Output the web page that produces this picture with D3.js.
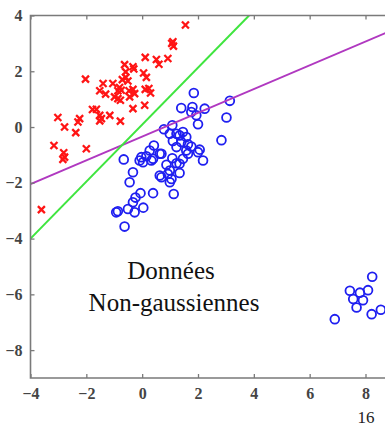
<!DOCTYPE html>
<html>
<head>
<meta charset="utf-8">
<script src="https://cdn.jsdelivr.net/npm/d3@7"></script>
<style>
  html, body { margin: 0; padding: 0; background: #fff; overflow: hidden; }
  svg { display: block; }
  .serif { font-family: "Liberation Serif", "Times New Roman", Times, "DejaVu Serif", serif; }
</style>
</head>
<body>
<div id="chart"></div>
<script>
// classe 1 : croix rouges
const redPoints = [
  [1.55,3.66],[1.10,3.06],[1.12,2.90],[1.06,3.0],[0.92,2.46],[0.51,2.42],[0.60,2.25],[0.11,2.50],
  [0.05,1.94],[0.15,1.78],[0.11,1.35],[0.30,1.22],[0.09,0.78],[-0.63,2.24],[-0.33,2.16],[-0.30,2.08],
  [-0.59,1.98],[-0.59,1.78],[-0.71,1.70],[-0.51,1.65],[-1.05,1.56],[-1.40,1.56],[-2.03,1.72],[-0.81,1.42],
  [-0.87,1.30],[-0.75,1.32],[-1.52,1.30],[-1.31,1.18],[-0.47,1.30],[-0.33,1.35],[-0.27,1.20],[-0.45,1.08],
  [-0.99,1.08],[-0.87,1.02],[-0.78,0.96],[-0.33,0.66],[-1.16,0.42],[-1.52,0.42],[-1.64,0.64],[-1.78,0.63],
  [-1.46,0.30],[-1.52,0.22],[-0.78,0.21],[-2.24,0.30],[-2.30,0.18],[-3.02,0.34],[-2.78,0.00],[-2.38,-0.20],
  [-3.16,-0.66],[-2.0,-0.78],[-2.81,-0.92],[-2.78,-1.08],[-2.84,-1.16],[-3.61,-2.96],[0.24,1.38]
];

// classe 2 : cercles bleus
const bluePoints = [
  [1.85,1.22],[1.40,0.68],[1.80,0.72],[1.76,0.54],[2.24,0.66],[3.14,0.94],[3.02,0.34],[2.0,0.10],
  [2.84,-0.47],[1.94,0.42],[1.08,0.06],[0.78,-0.08],[0.99,-0.24],[1.34,-0.30],[1.58,-0.36],[1.23,-0.24],
  [1.46,-0.18],[1.10,-0.50],[1.40,-0.54],[1.64,-0.62],[1.76,-0.70],[2.06,-0.81],[1.23,-0.72],[1.58,-0.84],
  [1.64,-0.96],[2.0,-0.90],[2.18,-1.20],[0.42,-0.66],[0.27,-0.84],[0.63,-0.96],[0.15,-1.05],[-0.09,-1.20],
  [0.39,-1.14],[-0.66,-1.16],[1.08,-1.12],[1.46,-1.14],[-0.03,-1.08],[0.03,-1.26],[0.33,-1.20],[0.69,-0.96],
  [-0.33,-1.62],[-0.45,-1.98],[0.87,-1.35],[1.23,-1.30],[0.99,-1.56],[1.34,-1.65],[0.69,-1.80],[0.99,-1.98],
  [1.05,-1.86],[0.92,-1.68],[0.63,-1.74],[0.39,-2.37],[1.13,-2.40],[-0.06,-2.37],[-0.24,-2.53],[-0.33,-2.70],
  [0.04,-2.89],[-0.27,-3.06],[-0.51,-2.94],[-0.87,-3.02],[-0.93,-3.06],[-0.63,-3.57],[1.34,-1.32],
  [8.24,-5.37],[7.44,-5.87],[7.80,-5.94],[8.09,-5.85],[7.56,-6.17],[7.91,-6.21],[7.68,-6.47],[6.90,-6.89],
  [8.22,-6.71],[8.55,-6.55]
];

// droites de séparation
const greenLine = [[-4,-4],[3.83,4]];
const magentaLine = [[-4,-2.05],[8.9,3.45]];

const xTicks = [-4, -2, 0, 2, 4, 6, 8];
const yTicks = [4, 2, 0, -2, -4, -6, -8];
const labelLines = ["Données", "Non-gaussiennes"];
const pageNumber = "16";

const W = 385, H = 428;
const x = d3.scaleLinear().domain([-4, 8]).range([30.5, 365.5]);
const y = d3.scaleLinear().domain([-9, 4]).range([378, 15.5]);

const svg = d3.select("#chart").append("svg")
  .attr("width", W).attr("height", H);

svg.append("defs").append("clipPath").attr("id", "plot")
  .append("rect")
  .attr("x", x(-4)).attr("y", y(4))
  .attr("width", W - x(-4)).attr("height", y(-9) - y(4));

const plot = svg.append("g").attr("clip-path", "url(#plot)");

const line = d3.line().x(d => x(d[0])).y(d => y(d[1]));

// points bleus
plot.selectAll(".blue").data(bluePoints).enter().append("circle")
  .attr("cx", d => x(d[0])).attr("cy", d => y(d[1]))
  .attr("r", 4.4)
  .attr("fill", "none")
  .attr("stroke", "#1f1ff0")
  .attr("stroke-width", 1.8);

// croix rouges
const s = 3.5;
plot.selectAll(".red").data(redPoints).enter().append("path")
  .attr("d", d => {
    const cx = x(d[0]), cy = y(d[1]);
    return `M${cx - s},${cy - s}L${cx + s},${cy + s}M${cx - s},${cy + s}L${cx + s},${cy - s}`;
  })
  .attr("stroke", "#ff1515")
  .attr("stroke-width", 2.3)
  .attr("fill", "none");

plot.append("path").datum(magentaLine)
  .attr("d", line).attr("fill", "none")
  .attr("stroke", "#b038c0").attr("stroke-width", 2);

plot.append("path").datum(greenLine)
  .attr("d", line).attr("fill", "none")
  .attr("stroke", "#3fe53f").attr("stroke-width", 2);

// axes
const axisColor = "#7a7a7a";
const fmt = d => String(d).replace("-", "\u2212");
const gx = svg.append("g").attr("transform", `translate(0,${y(-9)})`)
  .call(d3.axisBottom(x).tickValues(xTicks).tickSize(-4).tickPadding(10).tickFormat(fmt));
const gxt = svg.append("g").attr("transform", `translate(0,${y(4)})`)
  .call(d3.axisTop(x).tickValues(xTicks).tickSize(-4).tickFormat(""));
const gy = svg.append("g").attr("transform", `translate(${x(-4)},0)`)
  .call(d3.axisLeft(y).tickValues(yTicks).tickSize(-4).tickPadding(8).tickFormat(fmt));

[gx, gxt, gy].forEach(g => {
  g.attr("font-family", null).attr("font-size", null);
  g.select(".domain").remove();
  g.selectAll(".tick line").attr("stroke", axisColor).attr("stroke-width", 1.3);
  g.selectAll("text")
    .attr("class", "serif")
    .attr("fill", "#444")
    .style("font-size", "16px")
    .style("font-weight", "bold");
});

// cadre (gauche, haut, bas)
svg.append("path")
  .attr("d", `M${W + 2},${y(4)}H${x(-4)}V${y(-9)}H${W + 2}`)
  .attr("fill", "none")
  .attr("stroke", axisColor)
  .attr("stroke-width", 1.6);

// texte
svg.append("text")
  .attr("class", "serif")
  .attr("x", 171).attr("y", 279)
  .attr("text-anchor", "middle")
  .style("font-size", "25px")
  .attr("fill", "#111")
  .text(labelLines[0]);

svg.append("text")
  .attr("class", "serif")
  .attr("x", 174).attr("y", 311)
  .attr("text-anchor", "middle")
  .style("font-size", "25px")
  .attr("fill", "#111")
  .text(labelLines[1]);

svg.append("text")
  .attr("class", "serif")
  .attr("x", 366).attr("y", 423)
  .attr("text-anchor", "middle")
  .style("font-size", "17px")
  .attr("fill", "#222")
  .text(pageNumber);
</script>
</body>
</html>
